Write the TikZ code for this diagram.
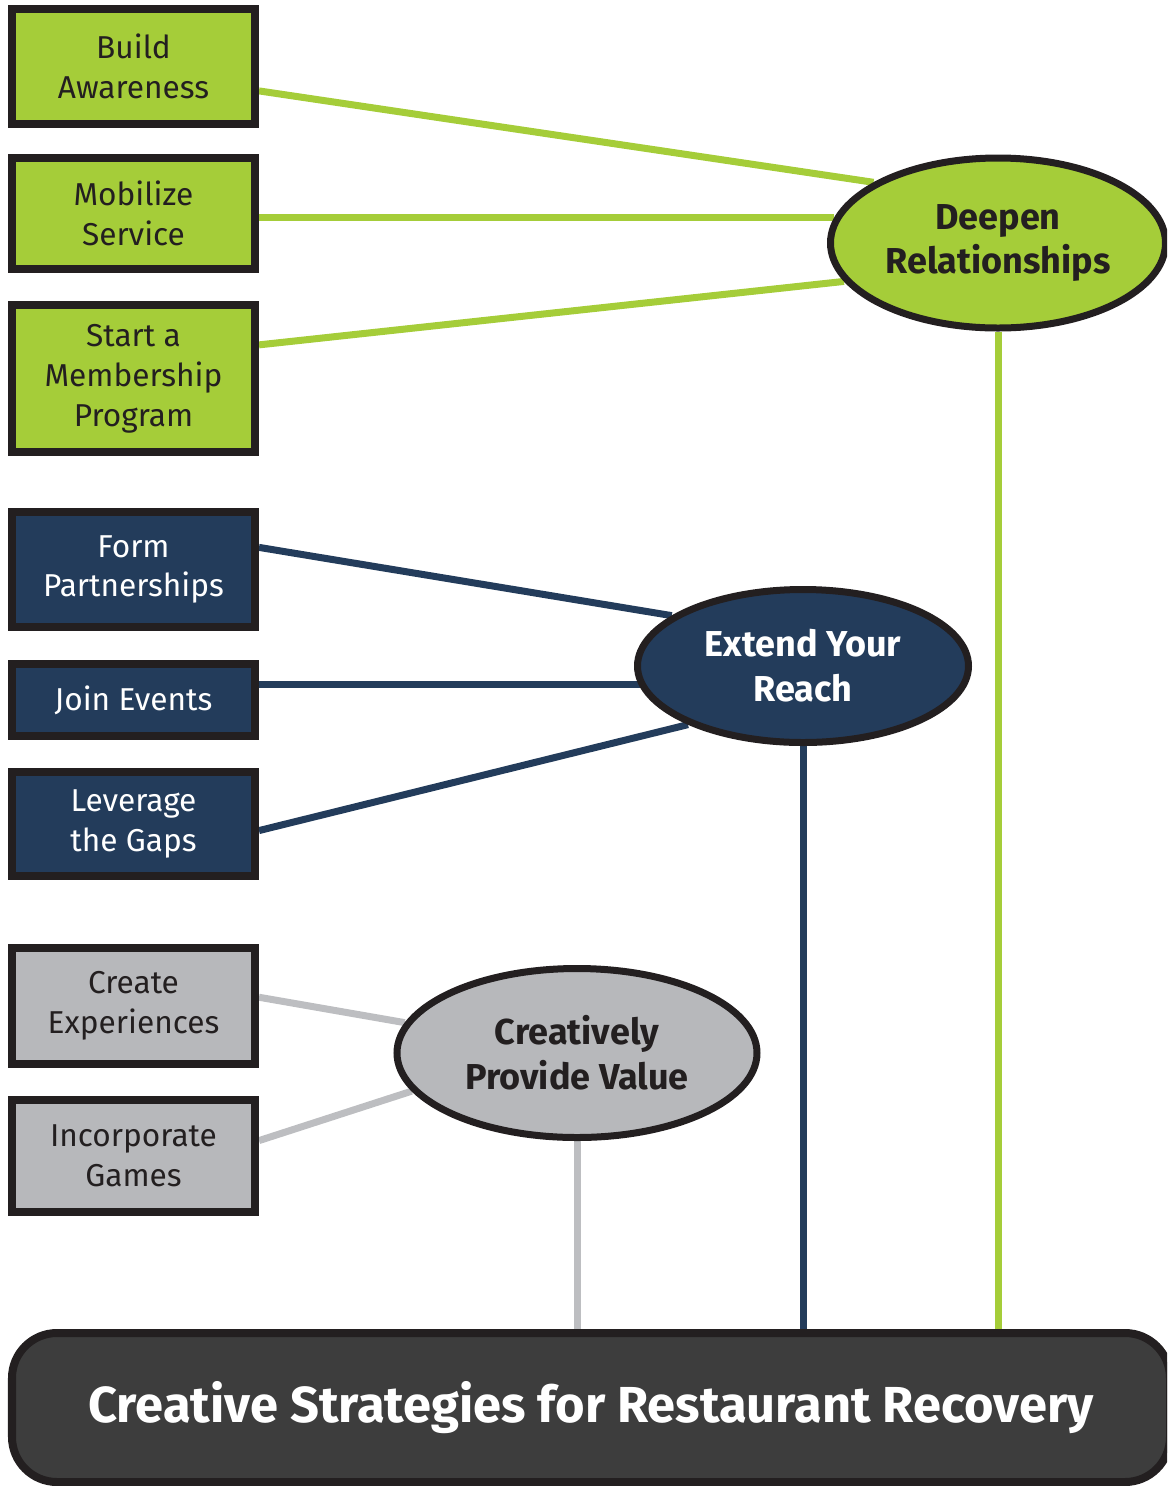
\documentclass[tikz,border=0pt]{standalone}
\usepackage{fontspec}
\setmainfont{Fira Sans}
\usepackage{tikz}
\usetikzlibrary{shapes.geometric, backgrounds}
\definecolor{mygreen}{RGB}{165,205,57}
\definecolor{mynavy}{RGB}{35,60,91}
\definecolor{mygray}{RGB}{183,184,187}
\definecolor{mylgray}{RGB}{189,190,193}
\definecolor{mydark}{RGB}{61,61,61}
\definecolor{myblack}{RGB}{35,31,32}
\tikzset{
  box/.style={rectangle, draw=myblack, line width=0.16cm,
    minimum width=4.86cm, inner sep=0pt, align=center,
    font=\fontsize{18}{22.7}\selectfont},
  greenbox/.style={box, fill=mygreen, text=myblack},
  navybox/.style={box, fill=mynavy, text=white},
  graybox/.style={box, fill=mygray, text=myblack},
  oval/.style={ellipse, draw=myblack, line width=0.14cm,
    inner sep=0pt, align=center,
    font=\bfseries\fontsize{20.5}{25.5}\selectfont},
  greenoval/.style={oval, fill=mygreen, text=myblack},
  navyoval/.style={oval, fill=mynavy, text=white},
  grayoval/.style={oval, fill=mygray, text=myblack},
  titlebox/.style={rectangle, rounded corners=0.9cm, draw=myblack,
    fill=mydark, line width=0.16cm, minimum width=23.16cm,
    minimum height=2.98cm, text=white,
    font=\bfseries\fontsize{28.8}{34}\selectfont},
  greenline/.style={mygreen, line width=0.14cm},
  navyline/.style={mynavy, line width=0.14cm},
  grayline/.style={mylgray, line width=0.14cm}
}
\begin{document}
\begin{tikzpicture}
  \useasboundingbox (0,0) rectangle (23.34,-29.72);
  \clip (0,0) rectangle (23.34,-29.72);

  \node[greenbox, minimum height=2.30cm] (build) at (2.67,-1.33) {Build\\Awareness};
  \node[greenbox, minimum height=2.22cm] (mobilize) at (2.67,-4.27) {Mobilize\\Service};
  \node[greenbox, minimum height=2.94cm] (start) at (2.67,-7.57) {Start a\\Membership\\Program};
  \node[navybox, minimum height=2.30cm] (form) at (2.67,-11.39) {Form\\Partnerships};
  \node[navybox, minimum height=1.44cm] (join) at (2.67,-14.00) {Join Events};
  \node[navybox, minimum height=2.08cm] (leverage) at (2.67,-16.48) {Leverage\\the Gaps};
  \node[graybox, minimum height=2.32cm] (create) at (2.67,-20.12) {Create\\Experiences};
  \node[graybox, minimum height=2.24cm] (incorporate) at (2.67,-23.12) {Incorporate\\Games};

  \node[greenoval, minimum width=6.70cm, minimum height=3.40cm] (deepen) at (19.96,-4.86) {Deepen\\Relationships};
  \node[navyoval, minimum width=6.62cm, minimum height=3.06cm] (extend) at (16.06,-13.32) {Extend Your\\Reach};
  \node[grayoval, minimum width=7.20cm, minimum height=3.38cm] (creative) at (11.54,-21.06) {Creatively\\Provide Value};

  \node[titlebox] (title) at (11.82,-28.15) {Creative Strategies for Restaurant Recovery};

  \begin{scope}[on background layer]
    \draw[greenline] (build.-11) -- (deepen.154);
    \draw[greenline] (mobilize.east |- deepen.171) -- (deepen.171);
    \draw[greenline] (start.15) -- (deepen.194);
    \draw[greenline] (deepen.south) -- (deepen.south |- title.north);
    \draw[navyline] (form.10) -- (extend.159);
    \draw[navyline] (join.7) -- (join.7 -| extend.center);
    \draw[navyline] (leverage.-3) -- (extend.207);
    \draw[navyline] (extend.south) -- (extend.south |- title.north);
    \draw[grayline] (create.4) -- (creative.170);
    \draw[grayline] (incorporate.7) -- (creative.193);
    \draw[grayline] (creative.south) -- (creative.south |- title.north);
  \end{scope}
\end{tikzpicture}
\end{document}
